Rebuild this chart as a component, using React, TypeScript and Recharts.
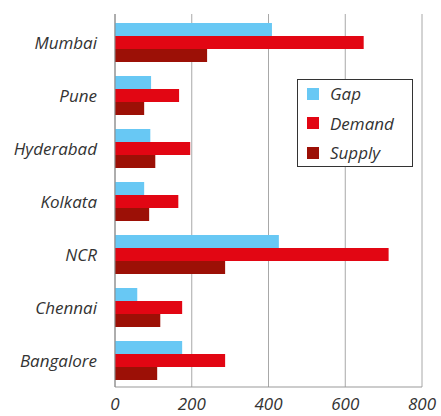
import React from 'react';
import { BarChart, Bar, XAxis, YAxis, CartesianGrid } from 'recharts';

const cities = ['Mumbai', 'Pune', 'Hyderabad', 'Kolkata', 'NCR', 'Chennai', 'Bangalore'];
const gap = [409, 94, 92, 76, 427, 58, 175];
const demand = [648, 167, 196, 165, 713, 175, 287];
const supply = [240, 76, 105, 89, 287, 118, 110];
const xTicks = [0, 200, 400, 600, 800];

const series = [
  { key: 'gap', name: 'Gap', color: '#68c8f4' },
  { key: 'demand', name: 'Demand', color: '#e20613' },
  { key: 'supply', name: 'Supply', color: '#9c1006' },
];

const data = cities.map((city, i) => ({
  city,
  gap: gap[i],
  demand: demand[i],
  supply: supply[i],
}));

const FONT = '"Open Sans", Lato, sans-serif';

// legend drawn over the plot, top right
const LegendBox = () => (
  <div
    style={{
      position: 'absolute',
      left: 297,
      top: 79,
      border: '1px solid #333',
      background: '#fff',
      width: 116,
      height: 88,
      boxSizing: 'border-box',
      padding: '0 0 0 9px',
    }}
  >
    {series.map((s, i) => (
      <div key={s.key} style={{ display: 'flex', alignItems: 'center', height: 29.5, marginTop: i === 0 ? -1 : 0 }}>
        <span style={{ width: 12, height: 12, background: s.color, display: 'inline-block', marginRight: 11, flexShrink: 0 }} />
        <span style={{ fontFamily: FONT, fontStyle: 'italic', fontSize: 17, color: '#333' }}>{s.name}</span>
      </div>
    ))}
  </div>
);

const App: React.FC = () => {
  const tickStyle = { fontFamily: FONT, fontStyle: 'italic', fontSize: 17, fill: '#333' };
  return (
    <div style={{ position: 'absolute', left: 0, top: 0, width: 441, height: 416, background: '#fff' }}>
      <BarChart
        width={441}
        height={416}
        data={data}
        layout="vertical"
        margin={{ top: 14, right: 19, bottom: 0, left: 0 }}
        barGap={0}
        barSize={13}
      >
        <CartesianGrid horizontal={false} stroke="#a8a8a8" strokeWidth={1} />
        <XAxis
          type="number"
          domain={[0, 800]}
          ticks={xTicks}
          interval={0}
          tickLine={false}
          tickSize={0}
          tickMargin={11}
          axisLine={{ stroke: '#999' }}
          tick={tickStyle}
          height={29}
        />
        <YAxis
          type="category"
          dataKey="city"
          width={115}
          tickLine={false}
          tickSize={0}
          tickMargin={18}
          axisLine={{ stroke: '#888' }}
          tick={tickStyle}
          padding={{ top: 2, bottom: 0 }}
        />
        {series.map(s => (
          <Bar key={s.key} dataKey={s.key} name={s.name} fill={s.color} isAnimationActive={false} />
        ))}
      </BarChart>
      <LegendBox />
    </div>
  );
};

export default App;
